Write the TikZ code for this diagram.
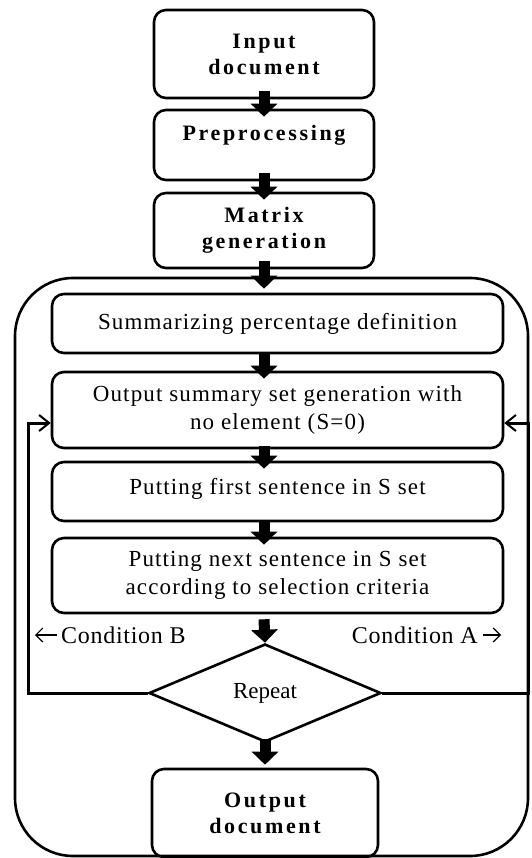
\documentclass[tikz,border=0pt]{standalone}
\usepackage{fontspec}
\setmainfont{Liberation Serif}
\usetikzlibrary{shapes.geometric,arrows.meta,calc}
\begin{document}
\begin{tikzpicture}[x=1pt,y=-1pt,
  box/.style={draw,line width=2.6pt,rounded corners=12pt,align=center,inner sep=0pt,
    font=\fontsize{23}{28.5}\selectfont\addfontfeature{LetterSpace=5}},
  bbox/.style={box,font=\fontsize{22}{26}\selectfont\bfseries\addfontfeature{LetterSpace=12}},
  fat/.style={line width=11pt,-{Triangle[width=26pt,length=13pt]}},
  fb/.style={line width=3pt,-{Straight Barb[length=10pt,width=16pt,line width=2pt]}},
  cond/.style={font=\fontsize{24}{28}\selectfont\addfontfeature{LetterSpace=3},inner sep=0pt},
  small/.style={line width=1.2pt,-{Straight Barb[length=7pt,width=14pt]}}
]
\useasboundingbox (0,0) rectangle (531,858);
% outer container
\node[draw,line width=2.6pt,rounded corners=58pt,minimum width=513pt,minimum height=578pt,inner sep=0pt] (outer) at (271.5,567) {};
% top column
\node[bbox,minimum width=220pt,minimum height=88pt] (in) at (264,54) {Input\\document};
\node[bbox,minimum width=220pt,minimum height=70pt,text height=15pt,text depth=23pt] (pre) at (264,145) {Preprocessing};
\node[bbox,minimum width=220pt,minimum height=75pt] (mat) at (264,230.5) {Matrix\\generation};
% inner steps
\node[box,minimum width=451pt,minimum height=59pt] (sum) at (277.5,323.5) {Summarizing percentage definition};
\node[box,minimum width=451pt,minimum height=76pt] (out) at (277.5,410) {Output summary set generation with\\no element (S=0)};
\node[box,minimum width=451pt,minimum height=59pt,text depth=11pt] (first) at (277.5,491.5) {Putting first sentence in S set};
\node[box,minimum width=451pt,minimum height=75pt] (next) at (277.5,575.5) {Putting next sentence in S set\\according to selection criteria};
\node[draw,diamond,line width=2.6pt,minimum width=232pt,minimum height=98pt,inner sep=0pt,
  font=\fontsize{23}{28}\selectfont] (dia) at (265,693) {Repeat};
\node[bbox,minimum width=226pt,minimum height=88pt] (od) at (265,813) {Output\\document};
% fat arrows
\draw[fat] ([yshift=8pt]in.south) -- ([yshift=-8pt]pre.north);
\draw[fat] ([yshift=8pt]pre.south) -- ([yshift=-8pt]mat.north);
\draw[fat] ([yshift=8pt]mat.south) -- ([yshift=4pt]sum.north -| mat.south);
\draw[fat] ([yshift=2pt]sum.south -| mat.south) -- ([yshift=-8pt]out.north -| mat.south);
\draw[fat] ([yshift=3pt]out.south -| mat.south) -- ([yshift=-8pt]first.north -| mat.south);
\draw[fat] ([yshift=1pt]first.south -| mat.south) -- ([yshift=-8pt]next.north -| mat.south);
\draw[fat] ([yshift=-5pt]next.south -| mat.south) -- (dia.north);
\draw[fat] ([yshift=4pt]dia.south) -- ([yshift=3pt]od.north);
% feedback loops
\draw[fb] (dia.west) -| ([yshift=-13pt,xshift=-22pt]out.west) -- ([yshift=-13pt]out.west);
\draw[fb] (dia.east) -| ([yshift=-13pt,xshift=24pt]out.east) -- ([yshift=-13pt]out.east);
% condition labels
\node[cond,anchor=west] (cb) at (61,635) {Condition B};
\node[cond,anchor=east] (ca) at (478,635) {Condition A};
\coordinate (cbt) at (35,635);
\coordinate (cat) at (501,635);
\draw[small] ([xshift=-4pt]cb.west) -- (cbt);
\draw[small] ([xshift=5pt]ca.east) -- (cat);
\end{tikzpicture}
\end{document}
